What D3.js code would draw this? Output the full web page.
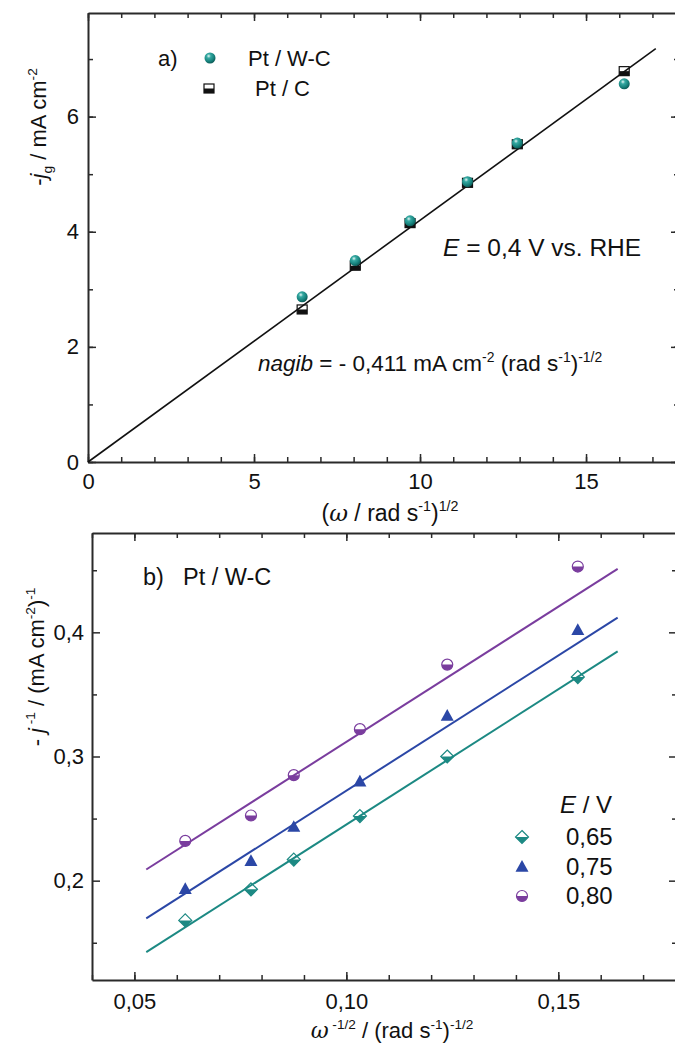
<!DOCTYPE html>
<html>
<head>
<meta charset="utf-8">
<script src="https://cdn.jsdelivr.net/npm/d3@7"></script>
<style>
  html, body { margin: 0; padding: 0; background: #fff; }
  svg { display: block; }
  text { font-family: "Liberation Sans", Arial, sans-serif; fill: #111; }
</style>
</head>
<body>
<svg id="chart" width="675" height="1045"></svg>
<script>
// panel a) data
const omegaSqrt = [6.45, 8.05, 9.70, 11.43, 12.93, 16.15];
const jgPtWC = [2.87, 3.50, 4.19, 4.87, 5.54, 6.57];
const jgPtC = [2.65, 3.41, 4.15, 4.85, 5.52, 6.79];
const fitA = [[0, 0], [17.1, 7.18]];
const ticksAx = [0, 5, 10, 15];
const ticksAy = [0, 2, 4, 6];

// panel b) data
const omegaInv = [0.062, 0.0775, 0.0876, 0.1032, 0.1238, 0.1546];
const jInv065 = [0.168, 0.193, 0.217, 0.252, 0.300, 0.364];
const jInv075 = [0.1935, 0.216, 0.2435, 0.280, 0.333, 0.402];
const jInv080 = [0.232, 0.2525, 0.285, 0.322, 0.374, 0.453];
const fit065 = [[0.0528, 0.1424], [0.164, 0.3846]];
const fit075 = [[0.0528, 0.1697], [0.164, 0.4118]];
const fit080 = [[0.0528, 0.209], [0.164, 0.4511]];
const ticksBx = [0.05, 0.10, 0.15];
const ticksBy = [0.2, 0.3, 0.4];
const legendB = ["0,65", "0,75", "0,80"];

const TEAL = "#1c8983", BLUE = "#2b47a6", PURPLE = "#7a3d9e";
const fmtComma = d3.format(".2f");

const svg = d3.select("#chart");

// kugla za Pt / W-C
const defs = svg.append("defs");
const grad = defs.append("radialGradient").attr("id", "ball")
    .attr("cx", "38%").attr("cy", "32%").attr("r", "70%");
grad.append("stop").attr("offset", "0%").attr("stop-color", "#e6f7f5");
grad.append("stop").attr("offset", "28%").attr("stop-color", "#35a9a2");
grad.append("stop").attr("offset", "70%").attr("stop-color", "#17827c");
grad.append("stop").attr("offset", "100%").attr("stop-color", "#0b5955");

// ---------- helpers ----------
function drawFrame(x, y, majX, minX, majY, minY, padX, padY, fmtX, fmtY) {
    const g = svg.append("g");
    const [x0, x1] = x.range();
    const [y0, y1] = y.range();
    const ax = [
        [d3.axisBottom(x), `translate(0,${y0})`, majX, minX, true, fmtX, padX],
        [d3.axisTop(x), `translate(0,${y1})`, majX, minX, false],
        [d3.axisLeft(y), `translate(${x0},0)`, majY, minY, true, fmtY, padY],
        [d3.axisRight(y), `translate(${x1},0)`, majY, minY, false]
    ];
    ax.forEach(([axis, tr, maj, min, lab, fmt, pad]) => {
        const gm = g.append("g").attr("transform", tr)
            .call(axis.tickValues(min).tickSize(-5).tickSizeOuter(0).tickFormat(""));
        gm.select(".domain").attr("stroke", "#2a2a2a").attr("stroke-width", 2);
        gm.selectAll(".tick line").attr("stroke", "#2a2a2a").attr("stroke-width", 1.5);
        const gM = g.append("g").attr("transform", tr)
            .call(axis.tickValues(maj).tickSize(-8).tickSizeOuter(0)
                .tickPadding(lab ? pad : 0).tickFormat(lab ? fmt : ""));
        gM.select(".domain").remove();
        gM.selectAll(".tick line").attr("stroke", "#2a2a2a").attr("stroke-width", 1.5);
        gM.selectAll(".tick text").attr("font-size", 22).attr("fill", "#111")
            .attr("font-family", '"Liberation Sans", Arial, sans-serif');
    });
    return g;
}

function richText(parent, x, y, parts, size, anchor) {
    const t = parent.append("text").attr("x", x).attr("y", y)
        .attr("font-size", size).attr("text-anchor", anchor || "start");
    parts.forEach(p => {
        const s = t.append("tspan").text(p.t);
        if (p.it) s.attr("font-style", "italic");
        if (p.serif) s.attr("font-family", '"DejaVu Serif", serif');
        if (p.sup) s.attr("font-size", size * 0.62).attr("dy", -size * 0.42);
        if (p.sub) s.attr("font-size", size * 0.62).attr("dy", size * 0.25);
        if (p.back) s.attr("dy", p.back);
    });
    return t;
}

// ---------- panel a ----------
const xA = d3.scaleLinear().domain([0, 17.8]).range([88, 679]);
const yA = d3.scaleLinear().domain([0, 7.8]).range([462, 13]);

drawFrame(xA, yA, ticksAx, d3.range(0, 18, 1), ticksAy, d3.range(0, 8, 1), 11, 9,
    d3.format("d"), d3.format("d"));

const ptsA = omegaSqrt.map((v, i) => ({ x: v, wc: jgPtWC[i], c: jgPtC[i] }));

// Pt / C - poluispunjeni kvadrati
const sq = svg.append("g").selectAll("g").data(ptsA).join("g")
    .attr("transform", d => `translate(${xA(d.x)},${yA(d.c)})`);
sq.append("rect").attr("x", -5).attr("y", -4.5).attr("width", 10).attr("height", 9)
    .attr("fill", "#fff").attr("stroke", "#111").attr("stroke-width", 1.2);
sq.append("rect").attr("x", -5).attr("y", 0).attr("width", 10).attr("height", 4.5)
    .attr("fill", "#111");

const line = (xs, ys) => d3.line().x(d => xs(d[0])).y(d => ys(d[1]));
svg.append("path").datum(fitA).attr("d", line(xA, yA))
    .attr("fill", "none").attr("stroke", "#111").attr("stroke-width", 1.6);

svg.append("g").selectAll("circle").data(ptsA).join("circle")
    .attr("cx", d => xA(d.x)).attr("cy", d => yA(d.wc)).attr("r", 5.5)
    .attr("fill", "url(#ball)");

// legenda a
svg.append("text").attr("x", 158).attr("y", 66).attr("font-size", 22).text("a)");
svg.append("circle").attr("cx", 210).attr("cy", 58).attr("r", 5.5).attr("fill", "url(#ball)");
svg.append("text").attr("x", 248).attr("y", 66).attr("font-size", 22).text("Pt / W-C");
svg.append("rect").attr("x", 204).attr("y", 84).attr("width", 10).attr("height", 9)
    .attr("fill", "#fff").attr("stroke", "#111").attr("stroke-width", 1.2);
svg.append("rect").attr("x", 204).attr("y", 88.5).attr("width", 10).attr("height", 4.5)
    .attr("fill", "#111");
svg.append("text").attr("x", 255).attr("y", 96).attr("font-size", 22).text("Pt / C");

richText(svg, 443, 256, [{ t: "E", it: true }, { t: " = 0,4 V vs. RHE" }], 24.5);
richText(svg, 258, 371, [
    { t: "nagib", it: true }, { t: " = - 0,411 mA cm" },
    { t: "-2", sup: true }, { t: " (rad s", back: 22.5 * 0.42 },
    { t: "-1", sup: true }, { t: ")", back: 22.5 * 0.42 }, { t: "-1/2", sup: true }
], 22.5);

// naslovi osi a
richText(svg, 390, 521, [
    { t: "(" }, { t: "ω", it: true, serif: true }, { t: " / rad s" },
    { t: "-1", sup: true }, { t: ")", back: 23 * 0.42 }, { t: "1/2", sup: true }
], 23, "middle");

richText(svg, 0, 0, [
    { t: "-" }, { t: "j", it: true }, { t: "g", sub: true },
    { t: " / mA cm", back: -22 * 0.25 }, { t: "-2", sup: true }
], 22, "middle").attr("transform", "translate(46,127) rotate(-90)");

// ---------- panel b ----------
const xB = d3.scaleLinear().domain([0.04, 0.178]).range([92, 677]);
const yB = d3.scaleLinear().domain([0.12, 0.48]).range([980, 533]);

drawFrame(xB, yB, ticksBx, d3.range(4, 18).map(v => v / 100), ticksBy,
    [0.15, 0.25, 0.35, 0.45], 13, 8,
    d => fmtComma(d).replace(".", ","), d => d3.format(".1f")(d).replace(".", ","));

function halfDiamond(g, cx, cy, r, c) {
    g.append("path").attr("d", `M${cx},${cy - r}L${cx + r},${cy}L${cx},${cy + r}L${cx - r},${cy}Z`)
        .attr("fill", "#fff").attr("stroke", c).attr("stroke-width", 1.2);
    g.append("path").attr("d", `M${cx - r},${cy}L${cx + r},${cy}L${cx},${cy + r}Z`).attr("fill", c);
}
function triangle(g, cx, cy, r, c) {
    g.append("path").attr("d", `M${cx},${cy - r}L${cx + r},${cy + r * 0.8}L${cx - r},${cy + r * 0.8}Z`)
        .attr("fill", c);
}
function halfCircle(g, cx, cy, r, c) {
    g.append("circle").attr("cx", cx).attr("cy", cy).attr("r", r)
        .attr("fill", "#fff").attr("stroke", c).attr("stroke-width", 1.2);
    g.append("path").attr("d", `M${cx - r},${cy}A${r},${r} 0 0 0 ${cx + r},${cy}Z`).attr("fill", c);
}

const seriesB = [
    { ys: jInv065, fit: fit065, c: TEAL, mark: halfDiamond, r: 6.5 },
    { ys: jInv075, fit: fit075, c: BLUE, mark: triangle, r: 6.5 },
    { ys: jInv080, fit: fit080, c: PURPLE, mark: halfCircle, r: 5.5 }
];
const gB = svg.append("g");
seriesB.forEach(s => {
    omegaInv.forEach((v, i) => s.mark(gB, xB(v), yB(s.ys[i]), s.r, s.c));
});
seriesB.forEach(s => {
    gB.append("path").datum(s.fit).attr("d", line(xB, yB))
        .attr("fill", "none").attr("stroke", s.c).attr("stroke-width", 2);
});

// legenda b
svg.append("text").attr("x", 143).attr("y", 585).attr("font-size", 23.5).text("b)");
svg.append("text").attr("x", 183).attr("y", 585).attr("font-size", 23.5).text("Pt / W-C");
richText(svg, 560, 813, [{ t: "E", it: true }, { t: " / V" }], 24);
seriesB.forEach((s, i) => {
    s.mark(svg, 522, 837 + i * 29.5, s.r, s.c);
    svg.append("text").attr("x", 566).attr("y", 845 + i * 29.5).attr("font-size", 24).text(legendB[i]);
});

// naslovi osi b
richText(svg, 392, 1038, [
    { t: "ω", it: true, serif: true }, { t: " -1/2", sup: true },
    { t: " / (rad s", back: 22 * 0.42 }, { t: "-1", sup: true },
    { t: ")", back: 22 * 0.42 }, { t: "-1/2", sup: true }
], 22, "middle");

richText(svg, 0, 0, [
    { t: "- " }, { t: "j", it: true }, { t: " -1", sup: true },
    { t: " / (mA cm", back: 22 * 0.42 }, { t: "-2", sup: true },
    { t: ")", back: 22 * 0.42 }, { t: "-1", sup: true }
], 22, "middle").attr("transform", "translate(44,667) rotate(-90)");
</script>
</body>
</html>
